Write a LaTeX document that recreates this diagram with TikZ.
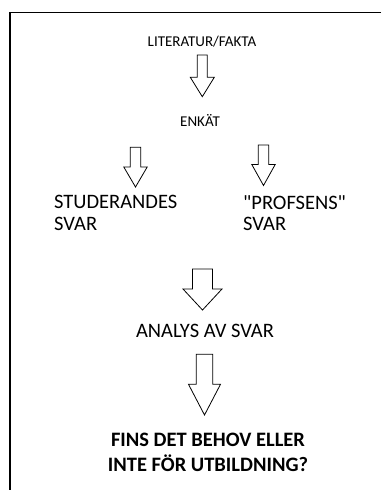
\documentclass[tikz,border=0pt]{standalone}
\usepackage{fontspec}
\setmainfont{Carlito}
\usetikzlibrary{calc,positioning}
\tikzset{
    %Define style for the small labels
    smalltxt/.style={
           inner sep=0pt,
           font=\fontsize{15}{18}\selectfont},
    %Define style for the big labels
    bigtxt/.style={
           inner sep=0pt,
           align=left,
           font=\fontsize{20.5}{21.7}\selectfont},
    % Define style for the hollow arrows
    hollow/.style={
           draw=black,
           line width=0.8pt,
           fill=white,
           line join=miter}
}
% hollow block arrow: top, tip, shaft half width, head half width, head length
\newcommand{\blockarrow}[5]{%
  \draw[hollow] let \p1=(#1), \p2=(#2) in
    (\x1-#3,\y1) -- (\x1+#3,\y1) -- (\x1+#3,\y2+#5) -- (\x2+#4,\y2+#5)
    -- (\p2) -- (\x2-#4,\y2+#5) -- (\x1-#3,\y2+#5) -- cycle;}

\begin{document}
\begin{tikzpicture}[x=1pt,y=-1pt]
 \useasboundingbox[fill=white] (0,0) rectangle (381,490);
 %Frame
 \draw[line width=1.6pt] (381,12.3) -- (10,12.3) -- (10,490);

 %Texts
 \node[smalltxt] (lit) at (202,42) {LITERATUR/FAKTA};
 \node[smalltxt] (enk) at (200,120) {ENKÄT};
 \node[bigtxt,anchor=west] (stud) at (54,213) {STUDERANDES\\SVAR};
 \node[bigtxt,anchor=west] (prof) at (243,213) {\textquotedbl PROFSENS\textquotedbl\\SVAR};
 \node[bigtxt] (ana) at (205,331) {ANALYS AV SVAR};
 \node[bigtxt,align=center,font=\fontsize{20.5}{25}\selectfont\bfseries] (fins) at (208,452) {FINS DET BEHOV ELLER\\INTE FÖR UTBILDNING?};

 %Arrows
 \coordinate (a1top) at (202.3,55);   \coordinate (a1tip) at (202.3,96.7);
 \coordinate (a2top) at (135.5,147.3); \coordinate (a2tip) at (135.5,187);
 \coordinate (a3top) at (263.5,145);   \coordinate (a3tip) at (263.5,185.5);
 \coordinate (a4top) at (202.5,269);   \coordinate (a4tip) at (202.5,310);
 \coordinate (a5top) at (204.5,354.3); \coordinate (a5tip) at (204.5,415);

 \blockarrow{a1top}{a1tip}{5pt}{12pt}{19.4pt}
 \blockarrow{a2top}{a2tip}{5.3pt}{11.7pt}{20pt}
 \blockarrow{a3top}{a3tip}{5.3pt}{11.7pt}{21pt}
 \blockarrow{a4top}{a4tip}{10pt}{19.5pt}{21pt}
 \blockarrow{a5top}{a5tip}{8.3pt}{16pt}{30.7pt}
\end{tikzpicture}
\end{document}
